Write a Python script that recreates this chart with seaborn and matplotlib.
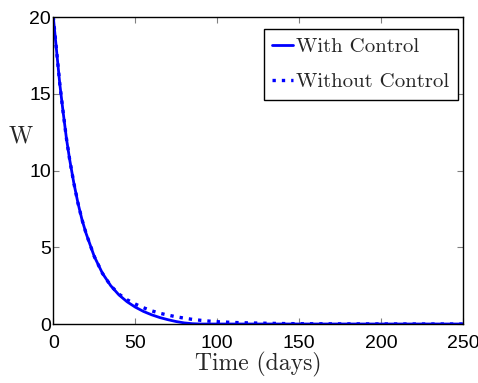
import matplotlib
matplotlib.use("Agg")
import matplotlib.pyplot as plt
import seaborn as sns
import pandas as pd
from matplotlib import font_manager

# ---- data ----
t_with = [0, 2, 4, 6, 8, 10, 12.5, 15, 17.5, 20, 25, 30, 35, 40, 45, 50, 55, 60,
          65, 70, 75, 80, 85, 90, 100, 150, 200, 250]
w_with = [20, 17.8, 15.6, 13.8, 12.1, 10.7, 9.2, 7.9, 6.8, 5.9, 4.4, 3.3, 2.5, 1.9,
          1.45, 1.1, 0.82, 0.6, 0.42, 0.28, 0.16, 0.07, 0.02, 0.0, 0.0, 0.0, 0.0, 0.0]

t_without = [0, 2, 4, 6, 8, 10, 12.5, 15, 17.5, 20, 25, 30, 35, 40, 45, 50, 55, 60,
             65, 70, 75, 80, 85, 90, 95, 100, 110, 120, 130, 140, 150, 175, 200, 250]
w_without = [20, 17.8, 15.6, 13.8, 12.1, 10.7, 9.2, 7.9, 6.8, 5.9, 4.4, 3.3, 2.5, 1.95,
             1.58, 1.3, 1.06, 0.86, 0.7, 0.58, 0.47, 0.38, 0.3, 0.24, 0.19, 0.15, 0.1,
             0.07, 0.05, 0.03, 0.02, 0.01, 0.005, 0.0]

series_labels = ["With Control", "Without Control"]
x_ticks = [0, 50, 100, 150, 200, 250]
y_ticks = [0, 5, 10, 15, 20]
x_label = "Time (days)"
y_label = "W"

sns.set_theme(style="ticks")
names = {f.name for f in font_manager.fontManager.ttflist}
tick_font = "Liberation Sans Narrow" if "Liberation Sans Narrow" in names else "Liberation Sans"
serif_font = "cmr10" if "cmr10" in names else "DejaVu Serif"
plt.rcParams["font.family"] = [tick_font, "DejaVu Sans"]

df = pd.concat([
    pd.DataFrame({"t": t_with, "W": w_with, "series": series_labels[0]}),
    pd.DataFrame({"t": t_without, "W": w_without, "series": series_labels[1]}),
])

fig = plt.figure(figsize=(4.78, 3.83), dpi=100)
ax = fig.add_axes([0.1115, 0.154, 0.8575, 0.8016])

sns.lineplot(data=df[df.series == series_labels[0]], x="t", y="W", ax=ax,
             color="#0000ff", lw=2.0, label=series_labels[0], legend=False)
sns.lineplot(data=df[df.series == series_labels[1]], x="t", y="W", ax=ax,
             color="#0000ff", lw=2.4, linestyle=(0, (1, 1.8)),
             label=series_labels[1], legend=False)

ax.set_xlim(0, 250)
ax.set_ylim(0, 20)
ax.set_xticks(x_ticks)
ax.set_yticks(y_ticks)
for s in ax.spines.values():
    s.set_visible(True)
    s.set_color("black")
    s.set_linewidth(1.0)
ax.tick_params(direction="in", length=4, width=0.8, color="#808080",
               top=True, right=True, labelsize=14, labelcolor="black")
ax.tick_params(axis="x", pad=8)
ax.tick_params(axis="y", pad=1.5)

ax.set_xlabel(x_label, fontsize=17, family=serif_font, labelpad=0)
ax.set_ylabel(y_label, fontsize=17, family=serif_font, rotation=0, va="center", ha="center")
ax.yaxis.set_label_coords(-0.08, 0.61)

leg = ax.legend(loc="upper right", bbox_to_anchor=(0.987, 0.96),
                prop={"family": serif_font, "size": 15},
                frameon=True, fancybox=False, edgecolor="black",
                handlelength=1.0, handletextpad=0.15, borderpad=0.4,
                labelspacing=0.8, borderaxespad=0.0)
leg.get_frame().set_linewidth(1.0)
leg.get_frame().set_facecolor("white")
leg.get_frame().set_alpha(1.0)

fig.savefig("out.png", dpi=100)
